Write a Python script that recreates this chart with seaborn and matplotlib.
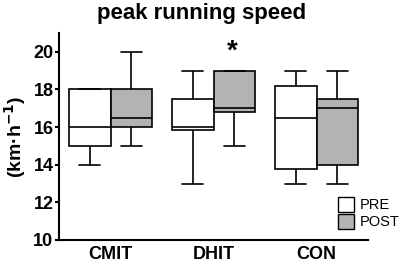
import matplotlib
matplotlib.use('Agg')
import matplotlib.pyplot as plt
import matplotlib.patches as mpatches
import numpy as np
import pandas as pd
import seaborn as sns

groups = ['CMIT', 'DHIT', 'CON']
phases = ['PRE', 'POST']
# five-number summaries: min, q1, median, q3, max
cmit_pre = [14, 15, 16, 18, 18]
cmit_post = [15, 16, 16.5, 18, 20]
dhit_pre = [13, 15.85, 16, 17.5, 19]
dhit_post = [15, 16.8, 17, 19, 19]
con_pre = [13, 13.75, 16.5, 18.2, 19]
con_post = [13, 14, 17, 17.5, 19]

rows = []
for g, pre, post in zip(groups, [cmit_pre, dhit_pre, con_pre], [cmit_post, dhit_post, con_post]):
    for v in pre:
        rows.append((g, 'PRE', v))
    for v in post:
        rows.append((g, 'POST', v))
df = pd.DataFrame(rows, columns=['group', 'phase', 'speed'])

sns.set_style('ticks')
plt.rcParams['font.family'] = ['Liberation Sans', 'DejaVu Sans']
plt.rcParams['font.weight'] = 'bold'
for k in ['text.color', 'axes.labelcolor', 'xtick.color', 'ytick.color', 'axes.edgecolor']:
    plt.rcParams[k] = 'black'

fig = plt.figure(figsize=(4.03, 2.64), dpi=100)
ax = fig.add_axes([59/403, 24/264, 309/403, 207/264])

lw = 1.2
sns.boxplot(data=df, x='group', y='speed', hue='phase', order=groups, hue_order=phases,
            palette={'PRE': 'white', 'POST': '#b3b3b3'}, whis=(0, 100), width=0.81, gap=0,
            linewidth=lw, linecolor='black', showcaps=True, legend=False, ax=ax,
            medianprops={'color': 'black', 'linewidth': lw},
            capprops={'linewidth': lw}, whiskerprops={'linewidth': lw},
            boxprops={'linewidth': lw, 'edgecolor': 'black'})

ax.set_ylim(10, 21)
ax.set_xlim(-0.5, 2.5)
ax.set_yticks([10, 12, 14, 16, 18, 20])
ax.tick_params(axis='y', labelsize=13, width=1.5, length=3, pad=1)
ax.tick_params(axis='x', labelsize=13, length=0, pad=4)
for lab in ax.get_xticklabels() + ax.get_yticklabels():
    lab.set_fontweight('bold')
ax.set_xlabel('')
ax.set_ylabel('(km\u00b7h$^{\\mathbf{-1}}$)', fontsize=14, fontweight='bold', labelpad=4)
sns.despine(ax=ax)
for s in ['left', 'bottom']:
    ax.spines[s].set_linewidth(1.5)

ax.text(1.18, 20.0, '*', ha='center', va='center', fontsize=20, fontweight='bold')
fig.suptitle('peak running speed', fontsize=16, fontweight='bold', y=0.99)

handles = [mpatches.Patch(facecolor='white', edgecolor='black', linewidth=1, label='PRE'),
           mpatches.Patch(facecolor='#b3b3b3', edgecolor='black', linewidth=1, label='POST')]
leg = ax.legend(handles=handles, loc='lower right', bbox_to_anchor=(1.13, 0.01), frameon=False,
                fontsize=10.5, handlelength=1.1, handleheight=1.2, handletextpad=0.4,
                labelspacing=0.1, borderaxespad=0.2)
for t in leg.get_texts():
    t.set_fontweight('normal')

fig.savefig('out.png', dpi=100)
